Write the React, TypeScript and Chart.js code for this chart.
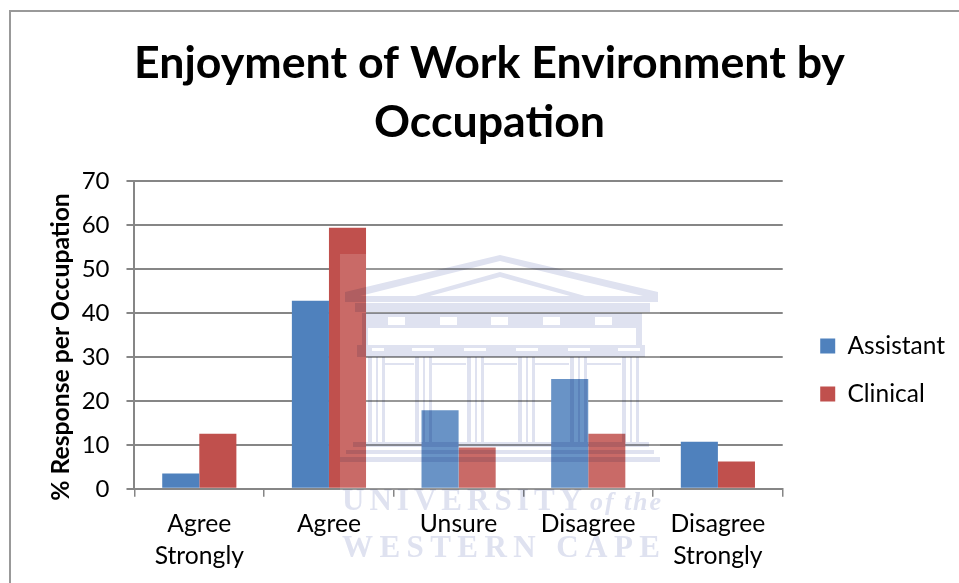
import React, { useEffect, useRef } from "react";
import { Chart, registerables } from "chart.js";

Chart.register(...registerables);

const categories = [["Agree", "Strongly"], ["Agree"], ["Unsure"], ["Disagree"], ["Disagree", "Strongly"]];
const assistant = [3.5, 42.8, 17.9, 25, 10.7];
const clinical = [12.5, 59.4, 9.4, 12.5, 6.2];
const titleLines = ["Enjoyment of Work Environment by", "Occupation"];
const yAxisTitle = "% Response per Occupation    ";
const yTicksStep = 10;
const FONT = "Lato, 'Open Sans', sans-serif";
const AXIS = "#868686";
const columns = [368, 415, 467, 518, 570, 622];
const metopes = [388, 440, 491, 543, 595];

const moveLegend = {
  id: "moveLegend",
  afterLayout(chart: any) {
    const l = chart.legend;
    if (l) {
      const dy = 73, dx = 14;
      l.top += dy; l.bottom += dy;
      l.left += dx; l.right += dx;
      l.legendHitBoxes.forEach((b: any) => { b.top += dy; b.left += dx; });
    }
    const t = chart.titleBlock;
    if (t) { t.left -= 2; t.right -= 2; }
  },
};

export default function App() {
  const ref = useRef<HTMLCanvasElement>(null);
  useEffect(() => {
    const chart = new Chart(ref.current!, {
      type: "bar",
      plugins: [moveLegend],
      data: {
        labels: categories,
        datasets: [
          { label: "Assistant", data: assistant, backgroundColor: "#4f81bd", barPercentage: 1, categoryPercentage: 0.572 },
          { label: "Clinical", data: clinical, backgroundColor: "#c0504d", barPercentage: 1, categoryPercentage: 0.572 },
        ],
      },
      options: {
        responsive: false,
        animation: false,
        layout: { padding: { left: 31, right: 18, top: 0, bottom: 0 } },
        plugins: {
          title: {
            display: true,
            text: titleLines,
            color: "#000",
            font: { family: FONT, size: 44.7, weight: "bold", lineHeight: 1.3 },
            padding: { top: 24, bottom: 30 },
          },
          legend: {
            position: "right",
            labels: { color: "#000", font: { family: FONT, size: 24.5 }, boxWidth: 15, boxHeight: 15, padding: 23.5 },
          },
          tooltip: { enabled: false },
        },
        scales: {
          x: {
            grid: { display: true, drawOnChartArea: false, drawTicks: true, tickLength: 8, color: AXIS, lineWidth: 1.5 },
            border: { color: AXIS, width: 2 },
            ticks: { color: "#000", font: { family: FONT, size: 24.7, lineHeight: 1.3 }, maxRotation: 0, padding: 11 },
          },
          y: {
            min: 0,
            max: 70,
            title: { display: true, text: yAxisTitle, color: "#000", font: { family: FONT, size: 24.7, weight: "bold" }, padding: { bottom: -11 } },
            grid: { color: AXIS, lineWidth: 2, tickLength: 8 },
            border: { color: AXIS, width: 2 },
            ticks: { stepSize: yTicksStep, color: "#000", font: { family: FONT, size: 24 }, padding: 17 },
          },
        },
      },
    });
    return () => chart.destroy();
  }, []);
  const lav = "#dfe2f0";
  return (
    <div style={{ position: "absolute", left: 0, top: 0, width: 959, height: 583, background: "#fff", overflow: "hidden" }}>
      <div style={{ position: "absolute", left: 9, top: 10, width: 960, height: 580, border: "2px solid #999", boxSizing: "border-box" }} />
      <canvas ref={ref} width={948} height={572} style={{ position: "absolute", left: 11, top: 11 }} />
      <svg width={959} height={583} style={{ position: "absolute", left: 0, top: 0 }}>
        <rect x={340} y={254} width={320} height={236} fill="#fff" opacity={0.15} />
        <g fill={lav} style={{ mixBlendMode: "multiply" }}>
          <path d="M345 292 L500 255 L658 292 L658 302 L345 302 Z M360 296 L643 296 L500 261 Z" fillRule="evenodd" />
          <path d="M415 296 L500 272 L585 296 L570 296 L500 277 L430 296 Z" />
          <rect x={355} y={303} width={295} height={9} />
          <path d={"M362 313 H642 V328 H362 Z " + metopes.map((x) => `M${x} 317 h17 v8 h-17 Z`).join(" ")} fillRule="evenodd" />
          <path d="M362 328 H368 V345 H362 Z M636 328 H642 V345 H636 Z" />
          <path d="M357 345 H645 V357 H357 Z M372 348 h12 v3 h-12 Z M412 348 h22 v3 h-22 Z M464 348 h22 v3 h-22 Z M516 348 h22 v3 h-22 Z M568 348 h22 v3 h-22 Z M618 348 h22 v3 h-22 Z" fillRule="evenodd" />
          {columns.map((x) => (
            <g key={x}>
              <rect x={x} y={357} width={4} height={85} />
              <rect x={x + 8} y={357} width={2} height={85} />
              <rect x={x + 14} y={357} width={3} height={85} />
            </g>
          ))}
          <rect x={384} y={363} width={30} height={2} />
          <rect x={432} y={363} width={34} height={2} />
          <rect x={484} y={363} width={33} height={2} />
          <rect x={535} y={363} width={34} height={2} />
          <rect x={587} y={363} width={34} height={2} />
          <rect x={353} y={442} width={296} height={5} />
          <rect x={346} y={450} width={308} height={4} />
          <rect x={340} y={457} width={320} height={5} />
          <g fontFamily="'Liberation Serif', serif" fontWeight="bold">
            <text x={342} y={510} fontSize={31} textLength={240} lengthAdjust="spacing">UNIVERSITY</text>
            <text x={590} y={510} fontSize={26} fontStyle="italic" textLength={71} lengthAdjust="spacing">of the</text>
            <text x={342} y={557} fontSize={31} textLength={318} lengthAdjust="spacing">WESTERN  CAPE</text>
          </g>
        </g>
      </svg>
    </div>
  );
}
